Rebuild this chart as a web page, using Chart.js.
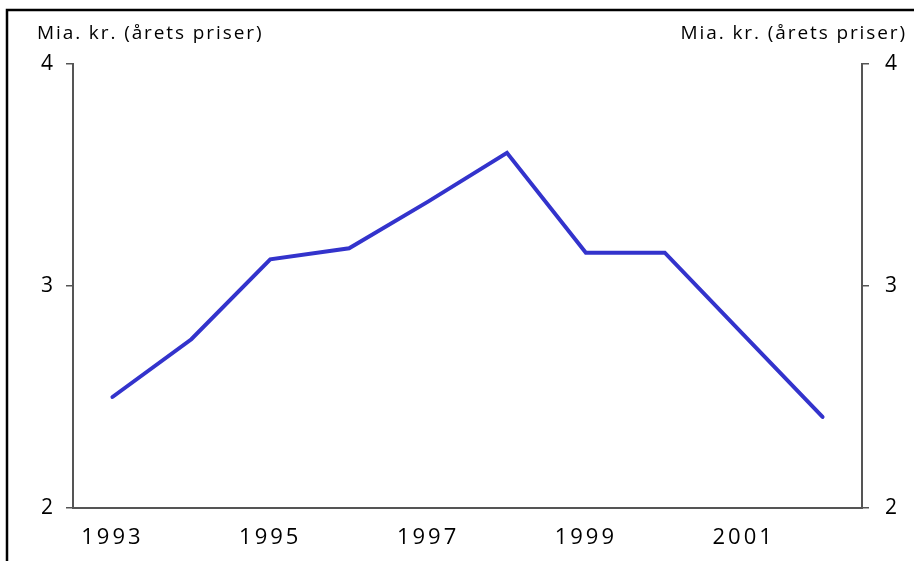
<!DOCTYPE html>
<html>
<head>
<meta charset="utf-8">
<script src="https://cdn.jsdelivr.net/npm/chart.js@4/dist/chart.umd.min.js"></script>
<style>
  html, body { margin: 0; padding: 0; background: #ffffff; }
  #wrap { position: relative; width: 914px; height: 561px; }
</style>
</head>
<body>
<div id="wrap"><canvas id="c" width="914" height="561"></canvas></div>
<script>
// ---- data ----
const categories = ["1993","1994","1995","1996","1997","1998","1999","2000","2001","2002"];
const values = [2.50, 2.76, 3.12, 3.17, 3.38, 3.60, 3.15, 3.15, 2.78, 2.41];
const shownYearLabels = ["1993","1995","1997","1999","2001"];
const yTickValues = [2, 3, 4];
const axisTitle = "Mia. kr. (årets priser)";

const condensed = '"Liberation Sans Narrow", "Open Sans", sans-serif';
const regular = '"Open Sans", "DejaVu Sans", sans-serif';
const axisColor = '#555555';

const decorPlugin = {
  id: 'decor',
  beforeDraw(chart) {
    const ctx = chart.ctx;
    if ('letterSpacing' in ctx) ctx.letterSpacing = '3px';
  },
  afterDraw(chart) {
    const ctx = chart.ctx;
    ctx.save();
    // frame (top and left)
    ctx.strokeStyle = '#000';
    ctx.lineWidth = 2.5;
    ctx.beginPath();
    ctx.moveTo(7, 561);
    ctx.lineTo(7, 10);
    ctx.lineTo(914, 10);
    ctx.stroke();
    // axis titles
    ctx.fillStyle = '#000';
    ctx.font = '19px ' + condensed;
    ctx.textBaseline = 'alphabetic';
    if ('letterSpacing' in ctx) ctx.letterSpacing = '1.9px';
    ctx.textAlign = 'left';
    ctx.fillText(axisTitle, 37, 39);
    ctx.textAlign = 'right';
    ctx.fillText(axisTitle, 907, 39);
    ctx.restore();
  }
};

const yAxisCommon = {
  min: 2, max: 4,
  afterBuildTicks(axis) { axis.ticks = yTickValues.map(v => ({ value: v })); },
  grid: { display: true, drawOnChartArea: false, drawTicks: true, tickLength: 7, color: axisColor, lineWidth: 1.5 },
  border: { display: true, color: axisColor, width: 2 },
  ticks: { color: '#000', font: { family: regular, size: 21 }, padding: 10 }
};

new Chart(document.getElementById('c'), {
  type: 'line',
  data: {
    labels: categories,
    datasets: [{
      data: values,
      borderColor: '#3333cc',
      borderWidth: 4,
      borderCapStyle: 'round',
      borderJoinStyle: 'miter',
      pointRadius: 0,
      tension: 0,
      fill: false
    }]
  },
  options: {
    responsive: false,
    animation: false,
    devicePixelRatio: 1,
    layout: { padding: { top: 64, left: 0, right: 0, bottom: 0 } },
    plugins: { legend: { display: false }, tooltip: { enabled: false }, title: { display: false } },
    scales: {
      x: {
        type: 'category',
        offset: true,
        grid: { display: false, drawTicks: false },
        border: { display: true, color: axisColor, width: 2 },
        afterFit(axis) { axis.height = 53; },
        ticks: {
          autoSkip: false,
          maxRotation: 0,
          padding: 17,
          color: '#000',
          font: { family: condensed, size: 22 },
          callback(value, index) {
            const lab = categories[index];
            return shownYearLabels.includes(lab) ? lab : '';
          }
        }
      },
      y: Object.assign({}, yAxisCommon, {
        position: 'left',
        afterFit(axis) { axis.width = 73; }
      }),
      y2: Object.assign({}, yAxisCommon, {
        position: 'right',
        afterFit(axis) { axis.width = 52; },
        ticks: Object.assign({}, yAxisCommon.ticks, { padding: 16 })
      })
    }
  },
  plugins: [decorPlugin]
});
</script>
</body>
</html>
